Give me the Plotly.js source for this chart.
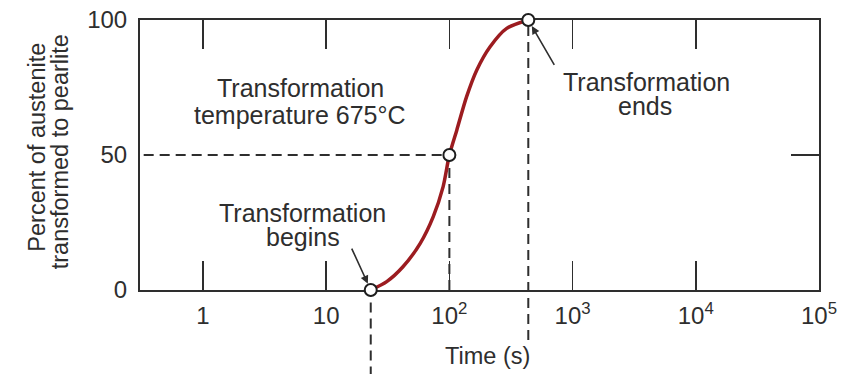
<!DOCTYPE html>
<html>
<head>
<meta charset="utf-8">
<script src="https://cdn.plot.ly/plotly-3.0.1.min.js"></script>
<style>html,body{margin:0;padding:0;background:#fff;}#chart{width:843px;height:374px;}</style>
</head>
<body>
<div id="chart"></div>
<script>
// ---- data ----
var curveTime = [23, 31, 42, 58, 74, 89, 100, 115, 138, 167, 214, 292, 437];
var curvePct  = [0, 3.1, 8.6, 17.3, 27.2, 38.3, 50, 59.3, 71.6, 81.5, 90.1, 96.9, 100];
var keyTime = [23, 100, 437];
var keyPct  = [0, 50, 100];
var xTickVals = [1, 10, 100, 1000, 10000, 100000];
var xTickText = ['1', '10', '10<sup>2</sup>', '10<sup>3</sup>', '10<sup>4</sup>', '10<sup>5</sup>'];
var yTickVals = [0, 50, 100];
var yTickText = ['0', '50', '100'];
var xRange = [-0.511, 5.0];   // log10 range
var yRange = [0, 100];

var FONT = 'Liberation Sans, Arial, Helvetica, sans-serif';
var INK = '#2e2e2e';
var CURVE = '#9c1c20';

var traces = [
  {x: curveTime, y: curvePct, type: 'scatter', mode: 'lines',
   line: {color: CURVE, width: 3.5, shape: 'spline', smoothing: 0.8},
   hoverinfo: 'skip', showlegend: false},
  {x: keyTime, y: keyPct, type: 'scatter', mode: 'markers', cliponaxis: false,
   marker: {symbol: 'circle', size: 12, color: '#ffffff', line: {color: '#1e1e1e', width: 2}},
   hoverinfo: 'skip', showlegend: false},
  {x: [keyTime[1]], y: [keyPct[1]], yaxis: 'y2', type: 'scatter', mode: 'markers',
   marker: {opacity: 0}, hoverinfo: 'skip', showlegend: false}
];

var dash = {color: INK, width: 2, dash: '10px,6px'};
var shapes = [
  // horizontal at 50%
  {type: 'line', layer: 'below', xref: 'x', yref: 'y', x0: Math.pow(10, xRange[0] - 0.1), x1: keyTime[1], y0: keyPct[1], y1: keyPct[1], line: dash},
  // vertical at 50% time
  {type: 'line', layer: 'below', xref: 'x', yref: 'y', x0: keyTime[1], x1: keyTime[1], y0: yRange[0], y1: keyPct[1], line: dash},
  // vertical at start time (below axis)
  {type: 'line', layer: 'below', xref: 'x', yref: 'paper', x0: keyTime[0], x1: keyTime[0], y0: -0.32, y1: 0, line: dash},
  // vertical at end time
  {type: 'line', layer: 'below', xref: 'x', yref: 'paper', x0: keyTime[2], x1: keyTime[2], y0: -0.185, y1: 1, line: dash}
];

function txt(text, x, y, opts) {
  var a = {text: text, xref: 'paper', yref: 'paper', x: x, y: y, showarrow: false,
           xanchor: 'center', yanchor: 'middle', font: {family: FONT, size: 25, color: INK}};
  for (var k in (opts || {})) a[k] = opts[k];
  return a;
}
var titleFont = {family: FONT, size: 23.5, color: INK};

var annotations = [
  txt('Transformation', 0.237, 0.748),
  txt('temperature 675°C', 0.236, 0.650),
  txt('Transformation', 0.239, 0.287),
  txt('begins', 0.240, 0.195),
  txt('Transformation', 0.746, 0.772),
  txt('ends', 0.744, 0.683),
  txt('Time (s)', 0.512, -0.244, {font: titleFont}),
  txt('Percent of austenite', -0.152, 0.530, {textangle: -90, font: titleFont}),
  txt('transformed to pearlite', -0.1175, 0.511, {textangle: -90, font: titleFont}),
  // arrows
  {x: Math.log10(keyTime[0]), y: keyPct[0], xref: 'x', yref: 'y', text: ' ', showarrow: true,
   ax: -22, ay: -48, arrowhead: 2, arrowsize: 1, arrowwidth: 1.6, arrowcolor: INK, standoff: 7},
  {x: Math.log10(keyTime[2]), y: keyPct[2], xref: 'x', yref: 'y', text: ' ', showarrow: true,
   ax: 29, ay: 50, arrowhead: 2, arrowsize: 1, arrowwidth: 1.6, arrowcolor: INK, standoff: 7}
];

var layout = {
  width: 843, height: 374,
  margin: {l: 140, r: 24, t: 20, b: 84},
  paper_bgcolor: '#ffffff', plot_bgcolor: 'rgba(0,0,0,0)',
  showlegend: false,
  font: {family: FONT, color: INK},
  xaxis: {type: 'log', range: xRange, tickvals: xTickVals, ticktext: xTickText,
          ticks: 'inside', ticklen: 29, tickwidth: 1.5, tickcolor: INK,
          showline: true, linecolor: INK, linewidth: 2, mirror: 'ticks',
          showgrid: false, zeroline: false, layer: 'below traces',
          tickfont: {family: FONT, size: 24, color: INK}, ticklabelstandoff: 3},
  yaxis: {range: yRange, tickvals: yTickVals, ticktext: yTickText,
          ticks: '', showline: true, linecolor: INK, linewidth: 2, mirror: true,
          showgrid: false, zeroline: false, layer: 'below traces',
          tickfont: {family: FONT, size: 24, color: INK}, ticklabelstandoff: 6},
  yaxis2: {overlaying: 'y', side: 'right', range: yRange, tickvals: [keyPct[1]],
           ticks: 'inside', ticklen: 28, tickwidth: 1.5, tickcolor: INK,
           showticklabels: false, showline: false, showgrid: false, zeroline: false},
  shapes: shapes,
  annotations: annotations
};

Plotly.newPlot('chart', traces, layout, {staticPlot: true, displayModeBar: false});
</script>
</body>
</html>
